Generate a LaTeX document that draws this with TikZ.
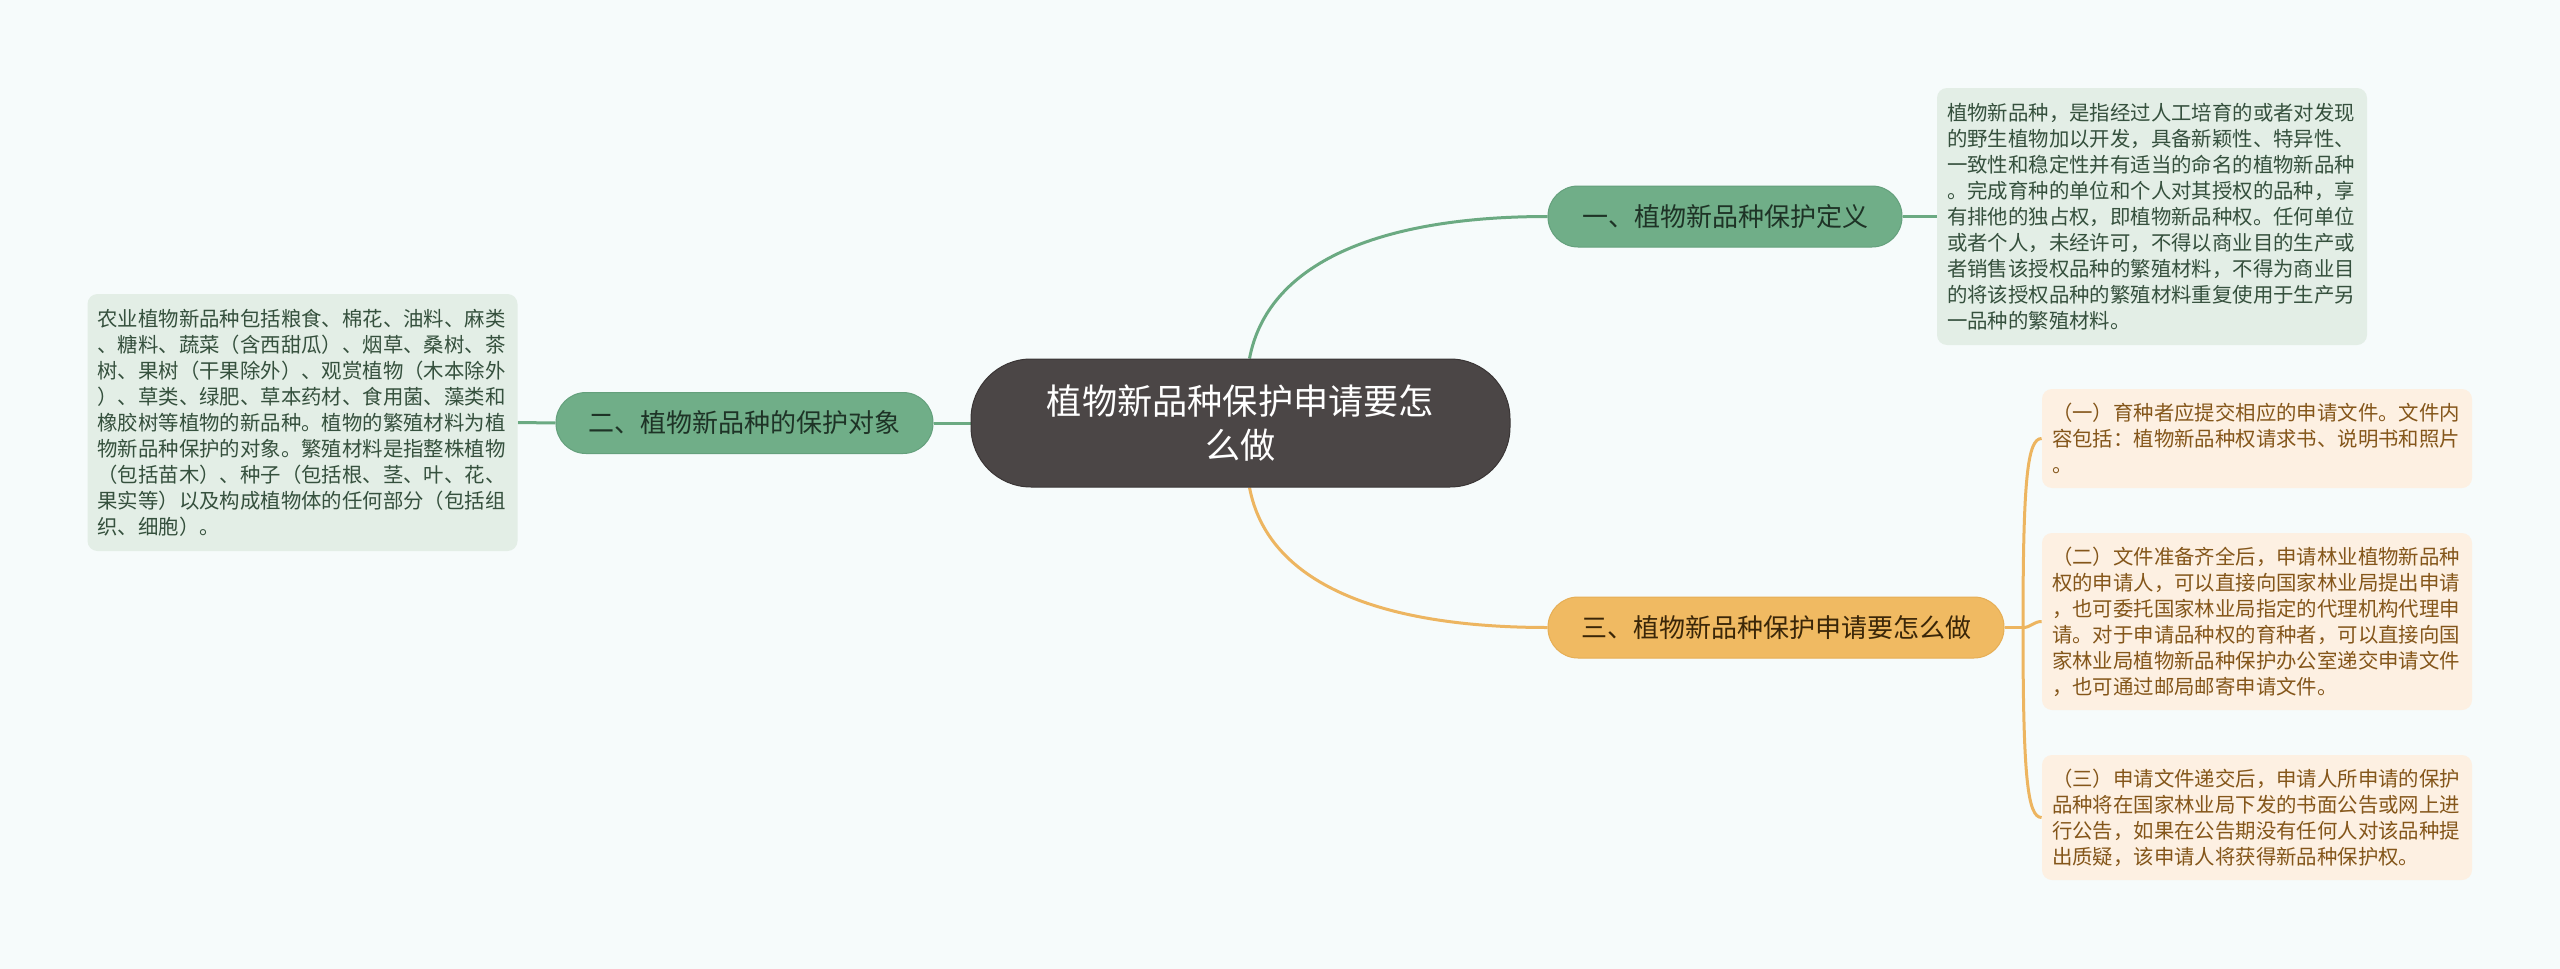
\documentclass[tikz,border=0pt]{standalone}
\usepackage{fontspec}
\newfontfamily\cjk{Noto Sans CJK SC}
\definecolor{bgc}{HTML}{F6FBFB}
\definecolor{rootfill}{HTML}{4B4646}
\definecolor{rootdraw}{HTML}{3A3535}
\definecolor{gfill}{HTML}{70AE88}
\definecolor{gdraw}{HTML}{64A07C}
\definecolor{gline}{HTML}{6BAA82}
\definecolor{gbox}{HTML}{E3EEE6}
\definecolor{gtext}{HTML}{35503D}
\definecolor{gntext}{HTML}{1E3326}
\definecolor{ofill}{HTML}{F0BA62}
\definecolor{odraw}{HTML}{E6AE55}
\definecolor{oline}{HTML}{EDB560}
\definecolor{obox}{HTML}{FDF0E2}
\definecolor{otext}{HTML}{84561A}
\definecolor{ontext}{HTML}{3A2608}
\pgfdeclarelayer{back}
\pgfdeclarelayer{lines}
\pgfsetlayers{back,lines,main}
\tikzset{
  rootnode/.style={rectangle, rounded corners=30pt, fill=rootfill, draw=rootdraw, line width=0.5pt,
    minimum width=269.5pt, minimum height=64pt, text=white, align=center,
    font=\cjk\fontsize{17.6}{22}\selectfont},
  gbranch/.style={rectangle, rounded corners=15pt, fill=gfill, draw=gdraw, line width=0.5pt,
    minimum height=30.5pt, text=gntext, font=\cjk\fontsize{13}{15}\selectfont},
  obranch/.style={rectangle, rounded corners=15pt, fill=ofill, draw=odraw, line width=0.5pt,
    minimum height=30.5pt, text=ontext, font=\cjk\fontsize{13}{15}\selectfont},
  gleaf/.style={rectangle, rounded corners=5pt, fill=gbox, text=gtext, align=left,
    text width=205pt, inner xsep=5pt, inner ysep=0pt, minimum width=215pt,
    font=\cjk\fontsize{10.2}{13}\selectfont},
  oleaf/.style={rectangle, rounded corners=5pt, fill=obox, text=otext, align=left,
    text width=205pt, inner xsep=5pt, inner ysep=0pt, minimum width=215pt,
    font=\cjk\fontsize{10.2}{13}\selectfont},
  glink/.style={draw=gline, line width=1.5pt},
  olink/.style={draw=oline, line width=1.5pt},
}
\begin{document}
\begin{tikzpicture}[x=0.5pt,y=-0.5pt]
\begin{pgfonlayer}{back}
\fill[bgc] (0,0) rectangle (2560,969);
\end{pgfonlayer}
\useasboundingbox (0,0) rectangle (2560,969);

\node[rootnode] (c) at (1240.5,423) {植物新品种保护申请要怎\\么做};

\node[gbranch, minimum width=177pt] (b1) at (1725,216.5) {一、植物新品种保护定义};
\node[gbranch, minimum width=188.5pt] (b2) at (744.5,423) {二、植物新品种的保护对象};
\node[obranch, minimum width=228pt] (b3) at (1776,627.5) {三、植物新品种保护申请要怎么做};

\node[gleaf, minimum height=128.5pt] (t1) at (2152,216.5) {植物新品种，是指经过人工培育的或者对发现\\
的野生植物加以开发，具备新颖性、特异性、\\
一致性和稳定性并有适当的命名的植物新品种\\
。完成育种的单位和个人对其授权的品种，享\\
有排他的独占权，即植物新品种权。任何单位\\
或者个人，未经许可，不得以商业目的生产或\\
者销售该授权品种的繁殖材料，不得为商业目\\
的将该授权品种的繁殖材料重复使用于生产另\\
一品种的繁殖材料。};

\node[gleaf, minimum height=128.5pt] (t2) at (302.5,422.5) {农业植物新品种包括粮食、棉花、油料、麻类\\
、糖料、蔬菜（含西甜瓜）、烟草、桑树、茶\\
树、果树（干果除外）、观赏植物（木本除外\\
）、草类、绿肥、草本药材、食用菌、藻类和\\
橡胶树等植物的新品种。植物的繁殖材料为植\\
物新品种保护的对象。繁殖材料是指整株植物\\
（包括苗木）、种子（包括根、茎、叶、花、\\
果实等）以及构成植物体的任何部分（包括组\\
织、细胞）。};

\node[oleaf, minimum height=49.5pt] (ta) at (2257,438.5) {（一）育种者应提交相应的申请文件。文件内\\
容包括：植物新品种权请求书、说明书和照片\\
。};

\node[oleaf, minimum height=88.5pt] (tb) at (2257,621.5) {（二）文件准备齐全后，申请林业植物新品种\\
权的申请人，可以直接向国家林业局提出申请\\
，也可委托国家林业局指定的代理机构代理申\\
请。对于申请品种权的育种者，可以直接向国\\
家林业局植物新品种保护办公室递交申请文件\\
，也可通过邮局邮寄申请文件。};

\node[oleaf, minimum height=62.5pt] (tc) at (2257,817.5) {（三）申请文件递交后，申请人所申请的保护\\
品种将在国家林业局下发的书面公告或网上进\\
行公告，如果在公告期没有任何人对该品种提\\
出质疑，该申请人将获得新品种保护权。};

\coordinate (j) at (2023,627.5);

\begin{pgfonlayer}{lines}
\path[glink] ([xshift=4.5pt]c.north) .. controls +(18,-95) and +(-170,0) .. (b1.west);
\path[olink] ([xshift=4.5pt]c.south) .. controls +(18,95) and +(-170,0) .. (b3.west);
\path[glink] (c.west) -- (b2.east);
\path[glink] (b2.west) -- (t2.east);
\path[glink] (b1.east) -- (t1.west);
\path[olink] (b3.east) -- (j);
\path[olink] (j) .. controls +(0,-150) and +(-14,0) .. (ta.west);
\path[olink] (j) .. controls +(8,0) and +(-8,0) .. (tb.west);
\path[olink] (j) .. controls +(0,150) and +(-14,0) .. (tc.west);
\end{pgfonlayer}
\end{tikzpicture}
\end{document}
